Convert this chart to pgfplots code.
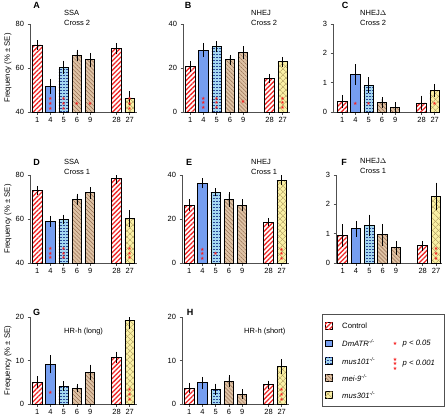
\documentclass[border=0pt]{standalone}
\usepackage{pgfplots}
\pgfplotsset{compat=1.18}
\usepackage{fontspec}
\setmainfont{Liberation Sans}
\newfontfamily\djv{DejaVu Sans}
\usetikzlibrary{patterns,patterns.meta}

\definecolor{ctrlred}{RGB}{238,40,40}
\definecolor{atrblue}{RGB}{118,158,240}
\definecolor{mblue}{RGB}{165,215,240}
\definecolor{mdots}{RGB}{40,70,150}
\definecolor{meitan}{RGB}{222,194,165}
\definecolor{meiline}{RGB}{150,110,80}
\definecolor{myel}{RGB}{250,240,165}
\definecolor{myline}{RGB}{170,150,90}
\definecolor{starred}{RGB}{245,30,30}
\definecolor{axgray}{RGB}{80,80,80}

\pgfdeclarepatternformonly{hdash}{\pgfpoint{-0.1pt}{-0.1pt}}{\pgfpoint{3.1pt}{3.1pt}}{\pgfpoint{3pt}{3pt}}{%
  \pgfsetlinewidth{0.7pt}%
  \pgfpathmoveto{\pgfpoint{0pt}{1.5pt}}%
  \pgfpathlineto{\pgfpoint{1.6pt}{1.5pt}}%
  \pgfusepath{stroke}}

\tikzset{
  ctrl/.style={draw=black, line width=0.8pt, fill=white,
    postaction={pattern={Lines[angle=45,distance=3.3pt,line width=1.3pt]}, pattern color=ctrlred}},
  atr/.style={draw=black, line width=0.8pt, fill=atrblue},
  mhun/.style={draw=black, line width=0.8pt, fill=mblue,
    postaction={pattern=hdash, pattern color=mdots}},
  mei/.style={draw=black, line width=0.8pt, fill=meitan,
    postaction={pattern={Lines[angle=-45,distance=2.8pt,line width=0.5pt]}, pattern color=meiline}},
  mtre/.style={draw=black, line width=0.8pt, fill=myel,
    postaction={pattern={Lines[angle=45,distance=4pt,line width=0.5pt]}, pattern color=myline},
    postaction={pattern={Lines[angle=-45,distance=4pt,line width=0.5pt]}, pattern color=myline}},
}

\pgfplotsset{
  panel/.style={
    scale only axis, width=107pt, height=88pt, anchor=north west,
    xmin=-0.55, xmax=7.55,
    axis x line*=bottom, axis y line*=left,
    xtick={0,1,2,3,4,6,7}, xticklabels={1,4,5,6,9,28,27},
    tick align=outside, major tick length=2.5pt,
    tick style={axgray, line width=0.5pt},
    axis line style={axgray, line width=0.6pt},
    ticklabel style={font=\fontsize{7.5}{8}\selectfont},
    xticklabel style={yshift=1pt},
    /pgf/number format/assume math mode=true,
  },
  bars/.style={ybar, bar width=0.72, bar shift=0pt,
    /pgfplots/error bars/y dir=both, /pgfplots/error bars/y explicit,
    /pgfplots/error bars/error bar style={black, line width=0.6pt},
    /pgfplots/error bars/error mark options={black, mark size=2pt, line width=0.6pt}},
  stars/.style={only marks, mark=text,
    text mark={\djv\fontsize{5}{5}\selectfont\color{starred}★}},
}

\newcommand{\ttl}[3]{\node[anchor=north west, align=left, font=\fontsize{7.5}{10}\selectfont, inner sep=0pt] at (#1pt,-#2pt) {#3};}
\newcommand{\plab}[3]{\node[font=\fontsize{9}{10}\selectfont\bfseries, inner sep=0pt] at (#1pt,-#2pt) {#3};}
\newcommand{\lstar}[2]{\node[inner sep=0pt, font=\djv\fontsize{5}{5}\selectfont] at (#1pt,-#2pt) {\color{starred}★};}

\begin{document}
\begin{tikzpicture}
\useasboundingbox (0pt,0pt) rectangle (446pt,-416pt);

% ---------------- A
\begin{axis}[panel, at={(30pt,-24pt)}, ymin=40, ymax=80, ytick={40,60,80}]
\addplot[bars, ctrl] coordinates {(0,70.5) +- (0,1.2) (6,68.7) +- (0,1.6)};
\addplot[bars, atr] coordinates {(1,51.6) +- (0,2.5)};
\addplot[bars, mhun] coordinates {(2,60.4) +- (0,2.0)};
\addplot[bars, mei] coordinates {(3,65.7) +- (0,1.8) (4,63.7) +- (0,2.3)};
\addplot[bars, mtre] coordinates {(7,46.3) +- (0,2.3)};
\addplot[stars] coordinates {(1,41.7) (1,43.8) (1,45.9) (2,41.7) (2,43.8) (2,45.9) (3,43.9) (4,43.9) (7,41.7) (7,43.8) (7,45.9)};
\end{axis}

% ---------------- B
\begin{axis}[panel, at={(183pt,-24pt)}, ymin=0, ymax=40, ytick={0,20,40}]
\addplot[bars, ctrl] coordinates {(0,20.8) +- (0,1.5) (6,15.2) +- (0,1.2)};
\addplot[bars, atr] coordinates {(1,28.2) +- (0,2.3)};
\addplot[bars, mhun] coordinates {(2,29.6) +- (0,1.6)};
\addplot[bars, mei] coordinates {(3,23.7) +- (0,1.4) (4,26.9) +- (0,2.1)};
\addplot[bars, mtre] coordinates {(7,22.8) +- (0,1.4)};
\addplot[stars] coordinates {(1,2.0) (1,4.1) (1,6.2) (2,2.0) (2,4.1) (2,6.2) (4,4.6) (7,2.0) (7,4.1) (7,6.2)};
\end{axis}

% ---------------- C
\begin{axis}[panel, at={(333pt,-24pt)}, xmin=-0.7, xmax=7.4, ymin=0, ymax=3, ytick={0,1,2,3}]
\addplot[bars, ctrl] coordinates {(0,0.37) +- (0,0.15) (6,0.31) +- (0,0.18)};
\addplot[bars, atr] coordinates {(1,1.28) +- (0,0.28)};
\addplot[bars, mhun] coordinates {(2,0.92) +- (0,0.2)};
\addplot[bars, mei] coordinates {(3,0.33) +- (0,0.11) (4,0.17) +- (0,0.1)};
\addplot[bars, mtre] coordinates {(7,0.74) +- (0,0.15)};
\addplot[stars] coordinates {(1,0.27) (2,0.27) (7,0.27)};
\end{axis}

% ---------------- D
\begin{axis}[panel, at={(30pt,-175pt)}, ymin=40, ymax=80, ytick={40,60,80}]
\addplot[bars, ctrl] coordinates {(0,72.9) +- (0,1.3) (6,78.5) +- (0,1.5)};
\addplot[bars, atr] coordinates {(1,59.0) +- (0,1.5)};
\addplot[bars, mhun] coordinates {(2,59.8) +- (0,1.3)};
\addplot[bars, mei] coordinates {(3,68.9) +- (0,1.7) (4,71.9) +- (0,1.7)};
\addplot[bars, mtre] coordinates {(7,60.2) +- (0,2.8)};
\addplot[stars] coordinates {(1,42.3) (1,44.4) (1,46.5) (2,42.3) (2,44.4) (2,46.5) (7,42.3) (7,44.4) (7,46.5)};
\end{axis}

% ---------------- E
\begin{axis}[panel, at={(182pt,-175pt)}, ymin=0, ymax=40, ytick={0,20,40}]
\addplot[bars, ctrl] coordinates {(0,26.3) +- (0,1.7) (6,18.6) +- (0,1.0)};
\addplot[bars, atr] coordinates {(1,36.2) +- (0,1.4)};
\addplot[bars, mhun] coordinates {(2,32.1) +- (0,0.9)};
\addplot[bars, mei] coordinates {(3,28.9) +- (0,2.4) (4,26.3) +- (0,1.7)};
\addplot[bars, mtre] coordinates {(7,37.6) +- (0,1.3)};
\addplot[stars] coordinates {(1,2.0) (1,4.1) (1,6.2) (2,4.3) (7,2.0) (7,4.1) (7,6.2)};
\end{axis}

% ---------------- F
\begin{axis}[panel, at={(336pt,-175pt)}, width=106pt, xmin=-0.5, xmax=7.45, ymin=0, ymax=3, ytick={0,1,2,3}]
\addplot[bars, ctrl] coordinates {(0,0.94) +- (0,0.31) (6,0.59) +- (0,0.1)};
\addplot[bars, atr] coordinates {(1,1.17) +- (0,0.2)};
\addplot[bars, mhun] coordinates {(2,1.28) +- (0,0.3)};
\addplot[bars, mei] coordinates {(3,0.96) +- (0,0.31) (4,0.52) +- (0,0.17)};
\addplot[bars, mtre] coordinates {(7,2.27) +- (0,0.4)};
\addplot[stars] coordinates {(7,0.16) (7,0.32) (7,0.48)};
\end{axis}

% ---------------- G
\begin{axis}[panel, at={(30pt,-317pt)}, height=87pt, ymin=0, ymax=20, ytick={0,10,20}]
\addplot[bars, ctrl] coordinates {(0,5.0) +- (0,0.9) (6,10.7) +- (0,0.9)};
\addplot[bars, atr] coordinates {(1,9.1) +- (0,1.6)};
\addplot[bars, mhun] coordinates {(2,4.1) +- (0,0.7)};
\addplot[bars, mei] coordinates {(3,3.65) +- (0,0.5) (4,7.3) +- (0,1.3)};
\addplot[bars, mtre] coordinates {(7,19.2) +- (0,1.6)};
\addplot[stars] coordinates {(1,2.5) (7,1.1) (7,2.15) (7,3.2)};
\end{axis}

% ---------------- H
\begin{axis}[panel, at={(182pt,-317pt)}, height=87pt, ymin=0, ymax=20, ytick={0,10,20}]
\addplot[bars, ctrl] coordinates {(0,3.65) +- (0,0.75) (6,4.4) +- (0,0.5)};
\addplot[bars, atr] coordinates {(1,4.87) +- (0,0.9)};
\addplot[bars, mhun] coordinates {(2,3.4) +- (0,0.8)};
\addplot[bars, mei] coordinates {(3,5.25) +- (0,0.9) (4,2.3) +- (0,0.6)};
\addplot[bars, mtre] coordinates {(7,8.67) +- (0,1.2)};
\addplot[stars] coordinates {(7,1.1) (7,2.15) (7,3.2)};
\end{axis}

% titles
\ttl{64}{10}{SSA\\Cross 2}
\ttl{251}{10}{NHEJ\\Cross 2}
\ttl{360}{10}{NHEJ$\Delta$\\Cross 2}
\ttl{64}{159}{SSA\\Cross 1}
\ttl{251}{159}{NHEJ\\Cross 1}
\ttl{360}{158}{NHEJ$\Delta$\\Cross 1}
\ttl{64}{328}{HR-h (long)}
\ttl{244}{328}{HR-h (short)}

% panel letters
\plab{36.5}{5.5}{A}
\plab{188}{5.5}{B}
\plab{345}{5.5}{C}
\plab{36.5}{162}{D}
\plab{189}{162}{E}
\plab{344}{162}{F}
\plab{36.5}{312}{G}
\plab{190}{312}{H}

% y labels
\foreach \yy in {68,219,360.5}
  \node[rotate=90, font=\fontsize{7.7}{9}\selectfont, inner sep=0pt] at (8pt,-\yy pt) {Frequency (\% ± SE)};

% legend
\draw[axgray, line width=0.7pt] (322pt,-314pt) rectangle (444pt,-406pt);
\begin{scope}[font=\fontsize{7.7}{9}\selectfont]
\draw[ctrl] (325pt,-322.5pt) rectangle (332.5pt,-329pt);
\node[anchor=west, inner sep=0pt] at (342pt,-325.7pt) {Control};
\draw[atr] (325pt,-340pt) rectangle (332.5pt,-346.5pt);
\node[anchor=west, inner sep=0pt] at (342pt,-343.3pt) {\textit{DmATR}\textsuperscript{\textit{-/-}}};
\draw[mhun] (325pt,-357.7pt) rectangle (332.5pt,-364.2pt);
\node[anchor=west, inner sep=0pt] at (342pt,-361pt) {\textit{mus101}\textsuperscript{\textit{-/-}}};
\draw[mei] (325pt,-374.5pt) rectangle (332.5pt,-381pt);
\node[anchor=west, inner sep=0pt] at (342pt,-377.7pt) {\textit{mei-9}\textsuperscript{\textit{-/-}}};
\draw[mtre] (325pt,-391.8pt) rectangle (332.5pt,-398.3pt);
\node[anchor=west, inner sep=0pt] at (342pt,-395pt) {\textit{mus301}\textsuperscript{\textit{-/-}}};
\lstar{395}{343.5}
\node[anchor=west, inner sep=0pt] at (402.5pt,-344pt) {\textit{p < 0.05}};
\lstar{395}{359.2}
\lstar{395}{364}
\lstar{395}{368.8}
\node[anchor=west, inner sep=0pt] at (402.5pt,-364pt) {\textit{p < 0.001}};
\end{scope}
\end{tikzpicture}
\end{document}
